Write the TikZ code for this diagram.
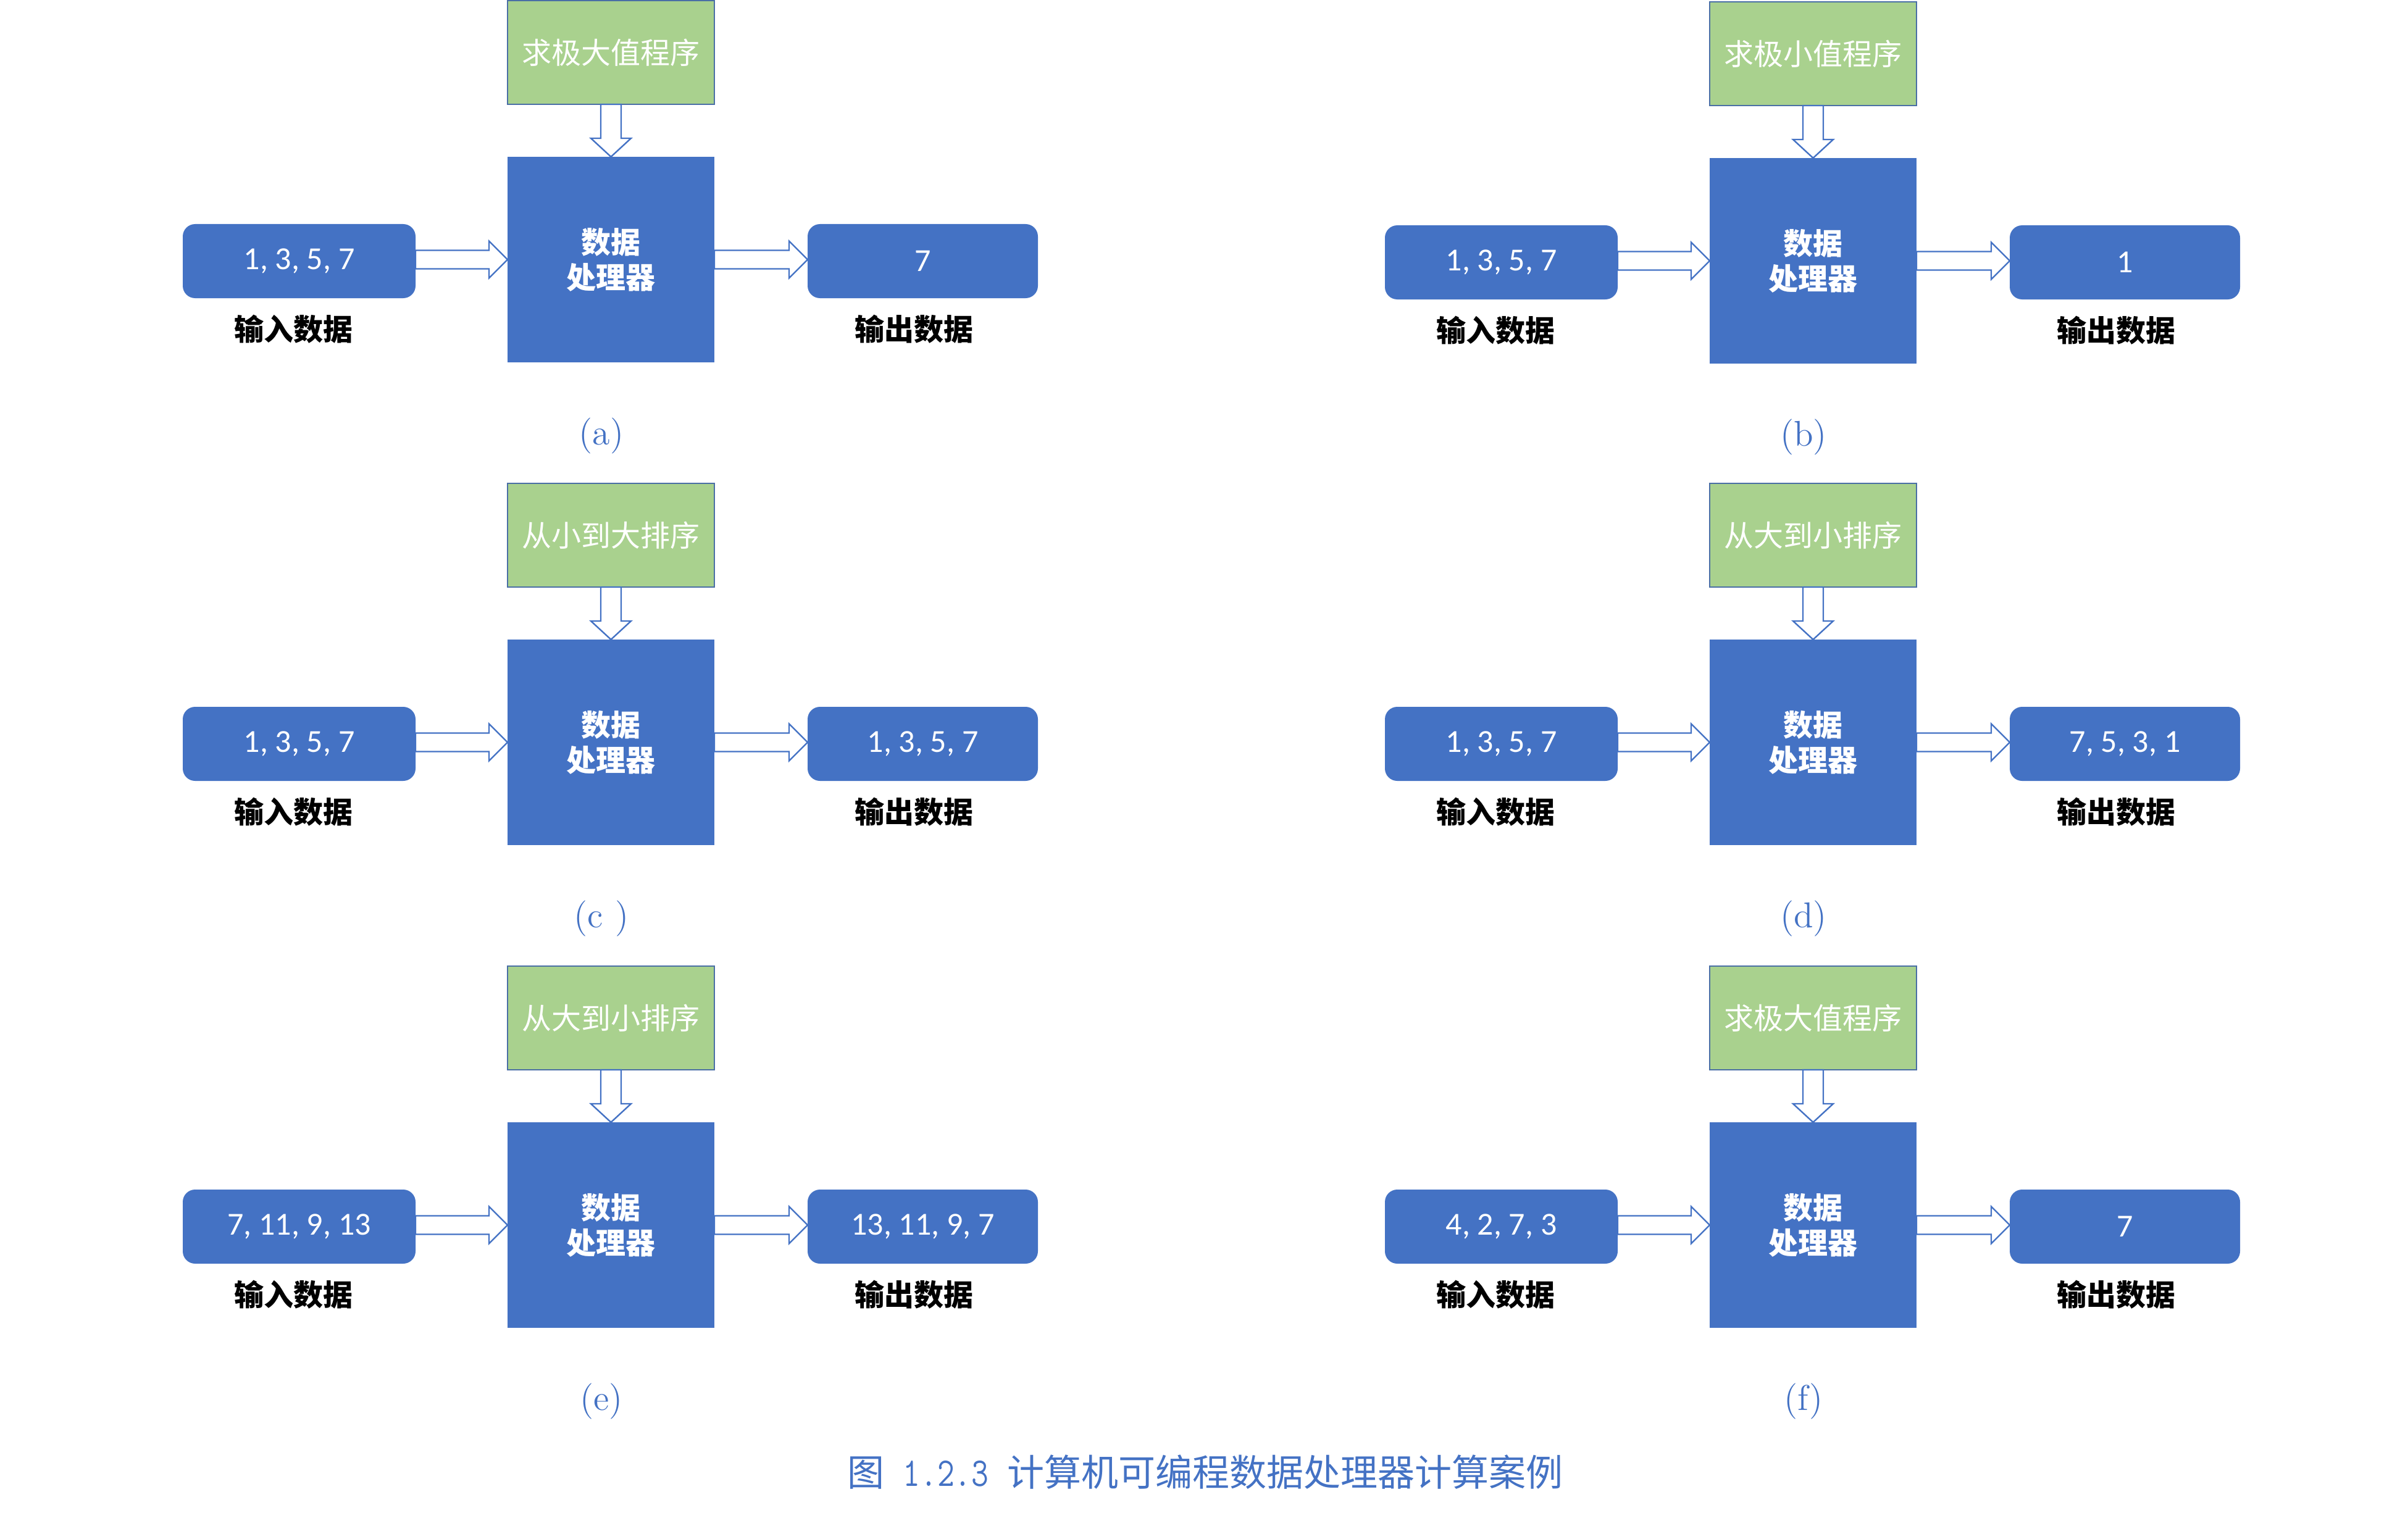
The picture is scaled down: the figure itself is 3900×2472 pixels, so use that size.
\documentclass[tikz,border=0pt]{standalone}
\usepackage{fontspec}
\usetikzlibrary{calc}
\newfontfamily\cjk{Noto Sans CJK SC}
\newfontfamily\numfont{Carlito}
\definecolor{offblue}{HTML}{4472C4}
\definecolor{offgreen}{HTML}{A9D18E}
\definecolor{edgeblue}{HTML}{4A6FA5}
\tikzset{
  progbox/.style={draw=edgeblue, line width=0.7pt, fill=offgreen, minimum width=83.75pt, minimum height=42pt, inner sep=0pt, outer sep=0pt, text=white, font=\cjk\fontsize{12pt}{14pt}\selectfont},
  procbox/.style={fill=offblue, minimum width=83.75pt, minimum height=83.25pt, inner sep=0pt, outer sep=0pt, text=white, align=center, font=\cjk\bfseries\fontsize{12pt}{14.25pt}\selectfont},
  databox/.style={fill=offblue, rounded corners=5pt, minimum height=30pt, inner sep=0pt, outer sep=0pt, text=white, font=\numfont\fontsize{13pt}{15pt}\selectfont},
  datalabel/.style={text=black, inner sep=0pt, font=\cjk\bfseries\fontsize{12pt}{14pt}\selectfont},
  subcap/.style={text=offblue, inner sep=0pt, font=\fontsize{14.5pt}{16pt}\selectfont},
  maincap/.style={text=offblue, inner sep=0pt, font=\cjk\fontsize{15pt}{17pt}\selectfont},
  blockarrow/.style={draw=offblue, fill=white, line width=0.6pt, line join=miter}
}
\newcommand\mypanel[7]{%
\begin{scope}[shift={(#2,#3)}]
  \node[progbox] (#1prog) at (989.5,85) {#4};
  \node[procbox] (#1proc) at (989.5,420.5) {数据\\处理器};
  \node[databox, minimum width=94.25pt] (#1in) at (484.5,423) {#5};
  \node[databox, minimum width=93.25pt] (#1out) at (1494.5,423) {#6};
  \node[datalabel] (#1lin) at (475,533) {输入数据};
  \node[datalabel] (#1lout) at (1480,533) {输出数据};
  \node[subcap] (#1cap) at (974,706) {#7};
  \draw[blockarrow] ($(#1prog.south)+(-16.5,0)$) -- ($(#1proc.north)+(-16.5,-30)$) -- ($(#1proc.north)+(-32.5,-30)$) -- (#1proc.north) -- ($(#1proc.north)+(32.5,-30)$) -- ($(#1proc.north)+(16.5,-30)$) -- ($(#1prog.south)+(16.5,0)$) -- cycle;
  \draw[blockarrow] ($(#1in.east |- #1proc.west)+(0,-15)$) -- ($(#1proc.west)+(-30,-15)$) -- ($(#1proc.west)+(-30,-30)$) -- (#1proc.west) -- ($(#1proc.west)+(-30,30)$) -- ($(#1proc.west)+(-30,15)$) -- ($(#1in.east |- #1proc.west)+(0,15)$) -- cycle;
  \draw[blockarrow] ($(#1proc.east)+(0,-15)$) -- ($(#1out.west |- #1proc.east)+(-30,-15)$) -- ($(#1out.west |- #1proc.east)+(-30,-30)$) -- (#1out.west |- #1proc.east) -- ($(#1out.west |- #1proc.east)+(-30,30)$) -- ($(#1out.west |- #1proc.east)+(-30,15)$) -- ($(#1proc.east)+(0,15)$) -- cycle;
\end{scope}}
\begin{document}
\begin{tikzpicture}[x=0.25pt, y=-0.25pt]
\useasboundingbox (0,0) rectangle (3900,2472);
\mypanel{a}{0}{0}{求极大值程序}{1, 3, 5, 7}{7}{(a)}
\mypanel{b}{1947}{2}{求极小值程序}{1, 3, 5, 7}{1}{(b)}
\mypanel{c}{0}{782}{从小到大排序}{1, 3, 5, 7}{1, 3, 5, 7}{(c )}
\mypanel{d}{1947}{782}{从大到小排序}{1, 3, 5, 7}{7, 5, 3, 1}{(d)}
\mypanel{e}{0}{1564}{从大到小排序}{7, 11, 9, 13}{13, 11, 9, 7}{(e)}
\mypanel{f}{1947}{1564}{求极大值程序}{4, 2, 7, 3}{7}{(f)}
\node[maincap] (title) at (1952,2385) {图\hspace{7.5pt}\scalebox{0.82}[1]{\ttfamily\fontsize{16.5pt}{17pt}\selectfont 1.2.3}\hspace{7.5pt}计算机可编程数据处理器计算案例};
\end{tikzpicture}
\end{document}
